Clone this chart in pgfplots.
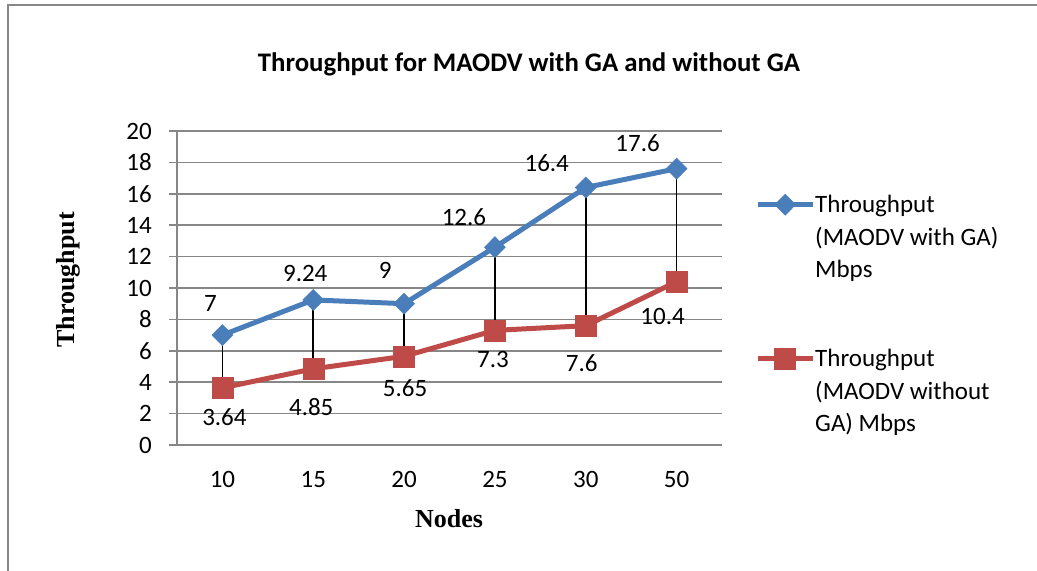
\documentclass[border=0pt]{standalone}
\usepackage{fontspec}
\setmainfont{Carlito}
\newfontfamily\tnr{Liberation Serif}
\usepackage{pgfplots}
\pgfplotsset{compat=1.18}
\definecolor{cblue}{HTML}{4A7EBB}
\definecolor{cred}{HTML}{BE4B48}
\definecolor{cgrid}{HTML}{878787}
\newcommand{\lbl}{\fontsize{25bp}{32.5bp}\selectfont}
\begin{document}
\begin{tikzpicture}[x=1bp,y=1bp]
\path[use as bounding box] (0,0) rectangle (1037,571);
\draw[cgrid, line width=1.5bp] (8,0) -- (8,566) -- (1037,566);
\node[font=\fontsize{26.8bp}{30bp}\selectfont\bfseries] at (529,507) {Throughput for MAODV with GA and without GA};
\node[font=\fontsize{26bp}{30bp}\selectfont\tnr\bfseries, rotate=90] at (68,291) {Throughput};
\node[font=\fontsize{26bp}{30bp}\selectfont\tnr\bfseries] at (449,52) {Nodes};
\begin{axis}[
  at={(177bp,126bp)}, anchor=south west,
  scale only axis, width=545bp, height=314bp,
  xmin=-0.5, xmax=5.5, ymin=0, ymax=20,
  axis lines=left, axis line style={-, cgrid, line width=1.5bp},
  xtick={0,1,2,3,4,5}, xticklabels={10,15,20,25,30,50},
  ytick={0,2,...,20},
  ymajorgrids, grid style={cgrid, line width=1.5bp},
  tick align=outside, major tick length=8bp,
  xtick style={draw=none}, ytick style={cgrid, line width=1.5bp},
  /pgf/number format/assume math mode=true,
  tick label style={font=\lbl, inner sep=0pt},
  yticklabel style={anchor=east, xshift=-17bp},
  xticklabel style={anchor=north, yshift=-18bp},
  clip=false,
  legend style={at={(axis description cs:1.0606,0.7994)}, anchor=north west, draw=none, fill=none,
    inner sep=0pt, font=\lbl, row sep=69bp, column sep=0bp,
    nodes={inner sep=0pt, align=left, anchor=base west}},
  legend image code/.code={\draw[mark repeat=2,mark phase=2,#1] plot coordinates {(0bp,73bp) (27.5bp,73bp) (55bp,73bp)};},
]
\addplot[cblue, line width=5bp, mark=diamond*, mark size=10.5bp, mark options={xscale=1.33, fill=cblue, draw=cblue, line width=0.5bp}]
  coordinates {(0,7) (1,9.24) (2,9) (3,12.6) (4,16.4) (5,17.6)};
\addlegendentry{Throughput\\(MAODV with GA)\\Mbps}
\addplot[cred, line width=5bp, mark=square*, mark size=10.5bp, mark options={fill=cred, draw=cred, line width=0.5bp}]
  coordinates {(0,3.64) (1,4.85) (2,5.65) (3,7.3) (4,7.6) (5,10.4)};
\addlegendentry{Throughput\\(MAODV without\\GA) Mbps}
\addplot[black, line width=1.6bp, forget plot] coordinates {(0,7) (0,3.64)};
\addplot[black, line width=1.6bp, forget plot] coordinates {(1,9.24) (1,4.85)};
\addplot[black, line width=1.6bp, forget plot] coordinates {(2,9) (2,5.65)};
\addplot[black, line width=1.6bp, forget plot] coordinates {(3,12.6) (3,7.3)};
\addplot[black, line width=1.6bp, forget plot] coordinates {(4,16.4) (4,7.6)};
\addplot[black, line width=1.6bp, forget plot] coordinates {(5,17.6) (5,10.4)};
\begin{scope}[every node/.style={font=\lbl, inner sep=0pt}]
\node[xshift=-12bp, yshift=32bp] at (axis cs:0,7) {7};
\node[xshift=-8bp, yshift=26bp] at (axis cs:1,9.24) {9.24};
\node[xshift=-19bp, yshift=33bp] at (axis cs:2,9) {9};
\node[xshift=-31bp, yshift=30bp] at (axis cs:3,12.6) {12.6};
\node[xshift=-39bp, yshift=24.5bp] at (axis cs:4,16.4) {16.4};
\node[xshift=-39bp, yshift=26bp] at (axis cs:5,17.6) {17.6};
\node[xshift=2bp, yshift=-29bp] at (axis cs:0,3.64) {3.64};
\node[xshift=-2bp, yshift=-38bp] at (axis cs:1,4.85) {4.85};
\node[xshift=1bp, yshift=-32bp] at (axis cs:2,5.65) {5.65};
\node[xshift=-2bp, yshift=-29bp] at (axis cs:3,7.3) {7.3};
\node[xshift=-4bp, yshift=-37bp] at (axis cs:4,7.6) {7.6};
\node[xshift=-14bp, yshift=-35bp] at (axis cs:5,10.4) {10.4};
\end{scope}
\end{axis}
\end{tikzpicture}
\end{document}
